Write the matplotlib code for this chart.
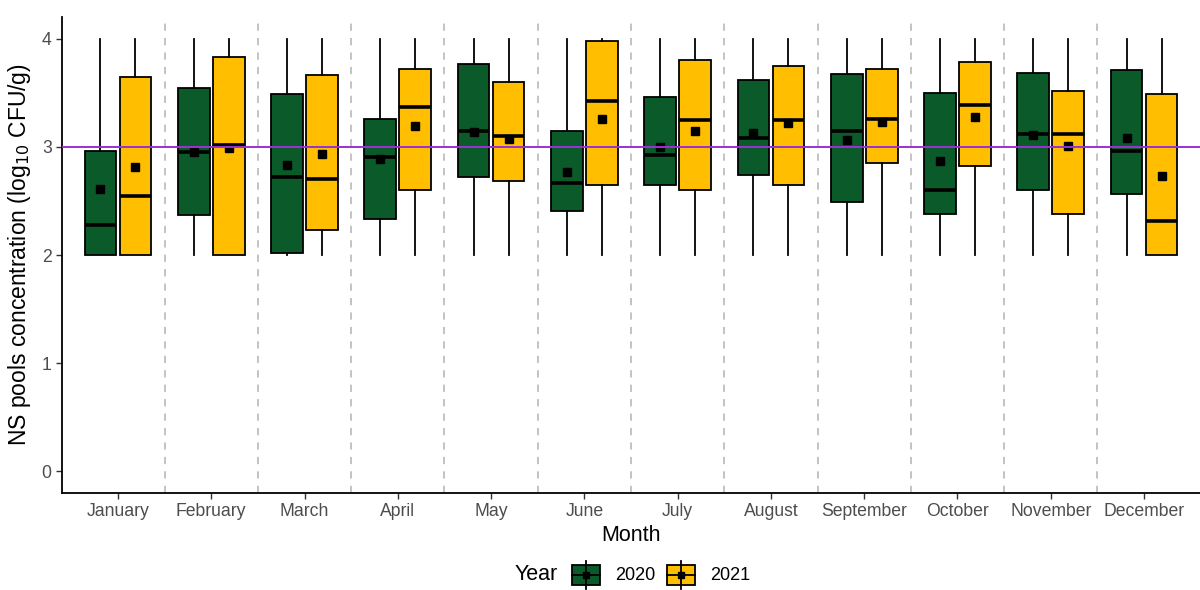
import matplotlib
matplotlib.use("Agg")
import matplotlib.pyplot as plt
from matplotlib.patches import Rectangle

plt.rcParams['font.family'] = ['Liberation Sans', 'DejaVu Sans']

months = ['January', 'February', 'March', 'April', 'May', 'June', 'July',
          'August', 'September', 'October', 'November', 'December']
years = ['2020', '2021']

# box statistics (log10 CFU/g)
q1_2020 = [2.00, 2.37, 2.02, 2.33, 2.72, 2.41, 2.65, 2.74, 2.49, 2.38, 2.60, 2.56]
med_2020 = [2.28, 2.95, 2.72, 2.91, 3.15, 2.67, 2.92, 3.08, 3.15, 2.60, 3.12, 2.96]
q3_2020 = [2.96, 3.54, 3.49, 3.26, 3.77, 3.15, 3.46, 3.62, 3.67, 3.50, 3.68, 3.71]
mean_2020 = [2.61, 2.95, 2.83, 2.89, 3.14, 2.77, 3.00, 3.13, 3.06, 2.87, 3.11, 3.08]

q1_2021 = [2.00, 2.00, 2.23, 2.60, 2.68, 2.65, 2.60, 2.65, 2.85, 2.82, 2.38, 2.00]
med_2021 = [2.55, 3.02, 2.70, 3.37, 3.10, 3.42, 3.25, 3.25, 3.26, 3.39, 3.12, 2.31]
q3_2021 = [3.65, 3.83, 3.66, 3.72, 3.60, 3.98, 3.80, 3.75, 3.72, 3.78, 3.52, 3.49]
mean_2021 = [2.81, 2.99, 2.93, 3.19, 3.07, 3.26, 3.15, 3.22, 3.23, 3.28, 3.01, 2.73]

wlo = 2.0
whi = 4.0
threshold = 3.0

green = '#0B5A2A'
yellow = '#FFBF00'
purple = '#9B30D5'


def stats(q1, med, q3, mean):
    out = []
    for a, m, b, mu in zip(q1, med, q3, mean):
        out.append(dict(q1=a, med=m, q3=b, mean=mu, whislo=min(wlo, a), whishi=whi, fliers=[]))
    return out


fig = plt.figure(figsize=(12, 5.9), dpi=100)
ax = fig.add_axes([62 / 1200, 1 - 493 / 590, 1 - 62 / 1200, (493 - 17) / 590])

pos = list(range(1, len(months) + 1))
for q1, med, q3, mean, col, off in [(q1_2020, med_2020, q3_2020, mean_2020, green, -0.1875),
                                     (q1_2021, med_2021, q3_2021, mean_2021, yellow, 0.1875)]:
    ax.bxp(stats(q1, med, q3, mean), positions=[p + off for p in pos], widths=0.34,
           patch_artist=True, showmeans=True, showcaps=False, manage_ticks=False,
           boxprops=dict(facecolor=col, edgecolor='black', linewidth=1.3),
           medianprops=dict(color='black', linewidth=2.6),
           whiskerprops=dict(color='black', linewidth=1.3),
           meanprops=dict(marker='s', markerfacecolor='black', markeredgecolor='black',
                          markersize=5.5),
           zorder=3)

for b in range(1, len(months)):
    ax.axvline(b + 0.5, color='#BEBEBE', lw=1.3, ls=(0, (4, 4)), zorder=1)
ax.axhline(threshold, color=purple, lw=1.4, zorder=6)

ax.set_xlim(0.4, 12.6)
ax.set_ylim(-0.2, 4.2)
ax.set_xticks(pos)
ax.set_xticklabels(months)
ax.set_yticks([0, 1, 2, 3, 4])
ax.tick_params(axis='both', colors='#333333', labelcolor='#4D4D4D', labelsize=12.7,
               length=4, width=1)
for s in ['top', 'right']:
    ax.spines[s].set_visible(False)
for s in ['left', 'bottom']:
    ax.spines[s].set_linewidth(1.3)
    ax.spines[s].set_color('black')

ax.set_xlabel('Month', fontsize=15.5, labelpad=3)
ax.set_ylabel('NS pools concentration (log$_{10}$ CFU/g)', fontsize=16.5, labelpad=6)

# legend drawn in pixel space along the bottom
lg = fig.add_axes([0, 0, 1, 1], facecolor='none')
lg.set_xlim(0, 1200)
lg.set_ylim(590, 0)
lg.axis('off')
lg.text(515, 575, 'Year', fontsize=15.5, ha='left', va='center')
for x0, col, yr in [(572, green, years[0]), (667, yellow, years[1])]:
    lg.plot([x0 + 14, x0 + 14], [561, 589], color='black', lw=1.3)
    lg.add_patch(Rectangle((x0, 565), 28, 20, facecolor=col, edgecolor='black', lw=1.3))
    lg.plot([x0, x0 + 28], [575, 575], color='black', lw=1.3)
    lg.plot([x0 + 14], [575], marker='s', color='black', markersize=5)
    lg.text(x0 + 43, 575, yr, fontsize=13, ha='left', va='center')

fig.savefig('out.png', dpi=100)
